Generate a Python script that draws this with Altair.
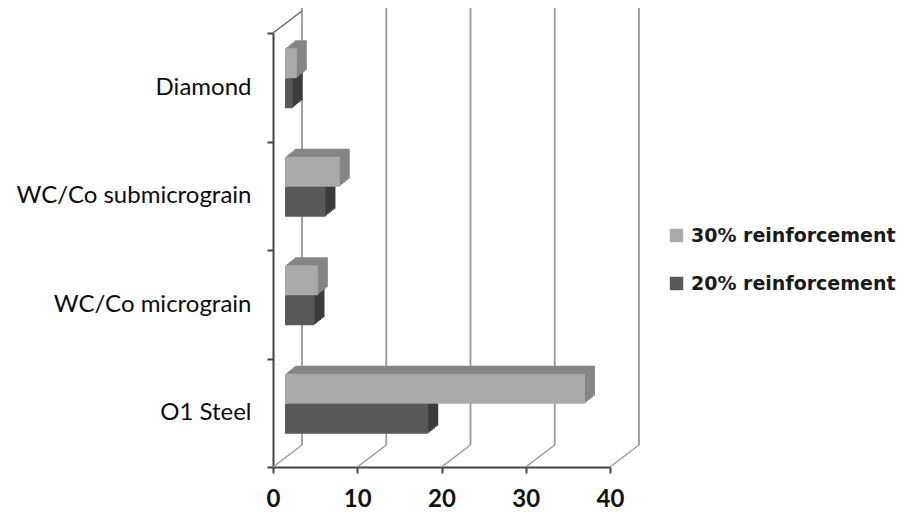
import altair as alt
import pandas as pd

# ---- data ----
categories = ["Diamond", "WC/Co submicrograin", "WC/Co micrograin", "O1 Steel"]
series_names = ["30% reinforcement", "20% reinforcement"]
values_30 = [1.4, 6.5, 3.9, 35.6]
values_20 = [0.9, 4.8, 3.5, 17.0]
x_ticks = [0, 10, 20, 30, 40]

rows = []
for c, v in zip(categories, values_30):
    rows.append({"category": c, "series": series_names[0], "value": v})
for c, v in zip(categories, values_20):
    rows.append({"category": c, "series": series_names[1], "value": v})
bars = pd.DataFrame(rows)
ticks = pd.DataFrame({"tick": x_ticks})

# ---- layout / style ----
W, H = 337, 434
DX, DY = 29, -22          # depth of the 3D floor
WALL_TOP = -25            # top of the back wall (relative to plot top)
BAR_IN = 12               # bar front face inset from front axis
FX, FY = 10, -8           # bar depth
BAR_SIZE = 30
STEPS = 6

xscale = alt.Scale(domain=[0, 40], nice=False, zero=True)
yscale = alt.Scale(domain=categories, paddingInner=0, paddingOuter=0)

X_AX = alt.Axis(
    values=x_ticks, title=None, grid=False, tickSize=6, tickWidth=2,
    tickColor="#444444", domainColor="#444444", domainWidth=2,
    labelFont="Lato", labelFontWeight="bold", labelFontSize=24,
    labelColor="#111111", labelPadding=14, labelFlush=False,
)
Y_AX = alt.Axis(
    title=None, grid=False, tickBand="extent", tickSize=6, tickWidth=2,
    tickColor="#444444", domainColor="#444444", domainWidth=2,
    labelFont="Lato", labelFontSize=24, labelColor="#0d0d0d",
    labelPadding=16, labelLimit=400,
)

front_colors = {series_names[0]: "#a9a9a9", series_names[1]: "#595959"}
shade_colors = {series_names[0]: "#858585", series_names[1]: "#3c3c3c"}
base_offsets = {series_names[0]: -24, series_names[1]: 6}

GRID = "#999999"

grid_back = alt.Chart(ticks).mark_rule(color=GRID, strokeWidth=1.8, xOffset=DX).encode(
    x=alt.X("tick:Q", scale=xscale, axis=X_AX),
    y=alt.value(WALL_TOP),
    y2=alt.value(H + DY),
)

floor_diag = alt.Chart(ticks).mark_rule(color=GRID, strokeWidth=1.5, xOffset=0, x2Offset=DX).encode(
    x=alt.X("tick:Q", scale=xscale, axis=X_AX),
    x2="tick:Q",
    y=alt.value(H),
    y2=alt.value(H + DY),
)

wall_top = alt.Chart(ticks).transform_filter("datum.tick == 0").mark_rule(
    color="#666666", strokeWidth=1.5, xOffset=0, x2Offset=DX
).encode(
    x=alt.X("tick:Q", scale=xscale, axis=X_AX),
    x2="tick:Q",
    y=alt.value(0),
    y2=alt.value(DY),
)

layers = [grid_back, floor_diag, wall_top]

draw_order = [series_names[1], series_names[0]]
for s in draw_order:
    b = base_offsets[s]
    src = alt.Chart(bars).transform_filter(alt.datum.series == s)
    for k in range(STEPS, 0, -1):
        f = k / STEPS
        layers.append(
            src.mark_bar(
                size=BAR_SIZE,
                xOffset=BAR_IN + FX * f,
                x2Offset=BAR_IN + FX * f,
                yOffset=b + FY * f,
                color=shade_colors[s],
            ).encode(
                x=alt.X("value:Q", scale=xscale, axis=X_AX),
                x2=alt.datum(0),
                y=alt.Y("category:N", scale=yscale, sort=categories, axis=Y_AX),
            )
        )
    layers.append(
        src.mark_bar(
            size=BAR_SIZE,
            xOffset=BAR_IN,
            x2Offset=BAR_IN,
            yOffset=b,
        ).encode(
            x=alt.X("value:Q", scale=xscale, axis=X_AX),
            x2=alt.datum(0),
            y=alt.Y("category:N", scale=yscale, sort=categories, axis=Y_AX),
            color=alt.Color(
                "series:N",
                scale=alt.Scale(domain=series_names,
                                range=[front_colors[n] for n in series_names]),
                legend=alt.Legend(
                    title=None, orient="none", legendX=394, legendY=193,
                    symbolType="square", symbolSize=180, symbolStrokeWidth=0,
                    symbolOpacity=1, labelLimit=400,
                    labelFont="DejaVu Sans", labelFontWeight="bold",
                    labelFontSize=19, labelColor="#1a1a1a",
                    labelOffset=5, rowPadding=28, padding=0,
                ),
            ),
        )
    )

chart = alt.layer(*layers).properties(
    width=W, height=H,
    autosize=alt.AutoSizeParams(type="none"),
    padding={"left": 265, "top": 25, "right": 290, "bottom": 48},
).configure(background="white").configure_view(stroke=None)

chart.save("out.html", embed_options={"renderer": "svg", "actions": False})
